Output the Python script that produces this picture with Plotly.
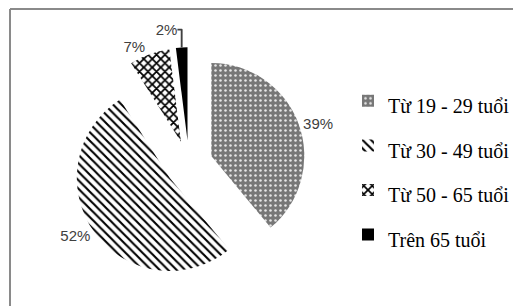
import plotly.graph_objects as go

categories = ["Từ 19 - 29 tuổi", "Từ 30 - 49 tuổi", "Từ 50 - 65 tuổi", "Trên 65 tuổi"]
values = [39, 52, 7, 2]

legend_labels = ['<span style="font-size:20px">' + c + '</span>' for c in categories]

# the page body adds an 8px offset, so the figure is drawn 8px smaller
OFF = 8
W, H = 521 - OFF, 306 - OFF
SERIF = "Liberation Serif, Times New Roman, DejaVu Serif, serif"

cx, cy, half = 189 - OFF, 164 - OFF, 116.7

fig = go.Figure(go.Pie(
    labels=legend_labels,
    values=values,
    sort=False,
    direction="clockwise",
    rotation=0,
    pull=[0.255, 0.255, 0.255, 0.255],
    textinfo="percent",
    textposition="outside",
    automargin=False,
    textfont=dict(family="Liberation Sans, Arial, sans-serif", size=15, color="#404040"),
    marker=dict(
        colors=["#808080", "white", "white", "black"],
        line=dict(width=0),
        pattern=dict(
            shape=[".", "\\", "x", ""],
            bgcolor=["#777777", "white", "white", "black"],
            fgcolor=["#e6e6e6", "black", "black", "black"],
            size=[5, 6, 6, 6],
            solidity=[0.2, 0.35, 0.5, 0.3],
            fillmode="replace",
        ),
    ),
    domain=dict(x=[(cx - half) / W, (cx + half) / W],
                y=[1 - (cy + half) / H, 1 - (cy - half) / H]),
    hoverinfo="label+percent",
))

fig.update_layout(
    width=W, height=H,
    autosize=False,
    margin=dict(l=0, r=0, t=0, b=0, pad=0, autoexpand=False),
    paper_bgcolor="white",
    plot_bgcolor="white",
    font=dict(family=SERIF, color="black"),
    legend=dict(
        x=(348 - OFF) / W, xanchor="left",
        y=1 - (168 - OFF) / H, yanchor="middle",
        font=dict(family=SERIF, size=32, color="black"),
        bgcolor="rgba(0,0,0,0)",
        borderwidth=0,
    ),
    shapes=[
        dict(type="line", xref="paper", yref="paper",
             x0=(10 - OFF) / W, x1=1, y0=1 - (9 - OFF) / H, y1=1 - (9 - OFF) / H,
             line=dict(color="#8a8a8a", width=2)),
        dict(type="line", xref="paper", yref="paper",
             x0=(10 - OFF) / W, x1=(10 - OFF) / W, y0=0, y1=1 - (9 - OFF) / H,
             line=dict(color="#8a8a8a", width=2)),
    ],
)

fig.write_html("out.html")
